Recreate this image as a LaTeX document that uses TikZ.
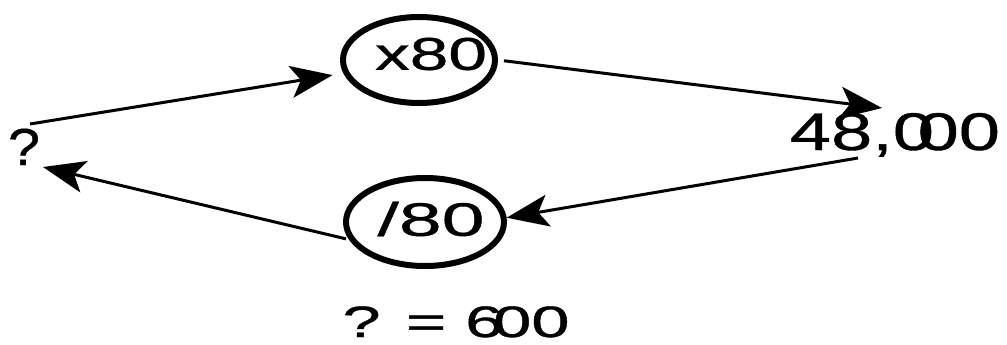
\documentclass[tikz,border=0pt]{standalone}
\usepackage{fontspec}
\setmainfont[FakeBold=0.7]{Liberation Sans}
\usetikzlibrary{arrows.meta,shapes.geometric}
\tikzset{
  oval/.style={draw, ellipse, line width=6pt, minimum width=152pt, minimum height=86pt, inner sep=0pt},
  txt/.style={inner sep=0pt, outer sep=0pt},
  conn/.style={line width=3pt, -{Stealth[length=42pt,width=32pt,inset=10pt]}},
}
\newcommand{\wide}[3]{{\fontsize{#1}{#1}\selectfont\resizebox{#2}{\height}{#3}}}
\begin{document}
\begin{tikzpicture}[x=1pt,y=-1pt]
\useasboundingbox (0,0) rectangle (1007,345);
% ellipses
\node[oval] (top) at (419,60) {};
\node[oval, minimum width=158pt, minimum height=88pt] (bot) at (425,222) {};
% texts
\node[txt] (toptext) at (431,54) {\wide{46pt}{112pt}{x80}};
\node[txt] (bottext) at (431,219) {\wide{47pt}{107pt}{/80}};
\node[txt, anchor=base] (n48) at (895,150) {\wide{53pt}{210pt}{48,0\kern-0.22em00}};
\node[txt, anchor=base] (q) at (24,165) {\wide{52pt}{32pt}{?}};
\node[txt, anchor=base] (ans) at (456,337) {\wide{44pt}{227pt}{? = 6\kern-0.15em00}};
% connector ends
\coordinate (qa) at (30,124);
\coordinate (qb) at (43,167);
\coordinate (na) at (882,108);
\coordinate (nb) at (858,158);
% connectors
\draw[conn, shorten >=11pt] (qa) -- (top.190);
\draw[conn, shorten <=6pt] (top.east) -- (na);
\draw[conn] (nb) -- (bot.3);
\draw[conn, shorten <=3pt] (bot.193) -- (qb);
\end{tikzpicture}
\end{document}
